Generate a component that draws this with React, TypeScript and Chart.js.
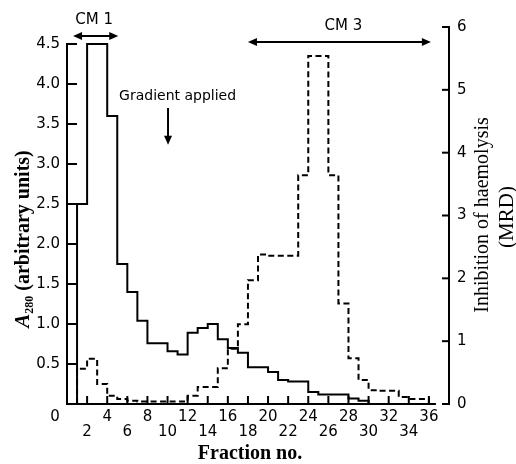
import React, { useEffect, useRef } from "react";
import { Chart, registerables } from "chart.js";

Chart.register(...registerables);

// ---- data ----
// each value covers one fraction: fraction k spans [k, k+1]
const a280FirstFraction = 1;
const a280Values = [
  2.5, 4.5, 4.5, 3.6, 1.75, 1.4, 1.04, 0.76, 0.76, 0.66,
  0.62, 0.89, 0.95, 1.0, 0.81, 0.7, 0.64, 0.46, 0.46, 0.4,
  0.3, 0.28, 0.28, 0.15, 0.12, 0.12, 0.12, 0.07, 0.04,
];
const mrdFirstFraction = 1;
const mrdValues = [
  0.56, 0.72, 0.32, 0.13, 0.08, 0.05, 0.04, 0.04, 0.04, 0.04,
  0.04, 0.13, 0.27, 0.27, 0.57, 0.88, 1.27, 1.97, 2.38, 2.36,
  2.36, 2.36, 3.64, 5.54, 5.54, 3.64, 1.6, 0.73, 0.38, 0.22,
  0.21, 0.21, 0.11, 0.08, 0.08,
];
const xTickValues = [0, 2, 4, 6, 8, 10, 12, 14, 16, 18, 20, 22, 24, 26, 28, 30, 32, 34, 36];
const leftTickValues = [0.5, 1.0, 1.5, 2.0, 2.5, 3.0, 3.5, 4.0, 4.5];
const rightTickValues = [0, 1, 2, 3, 4, 5, 6];

function toSteps(values: number[], first: number) {
  const pts: { x: number; y: number }[] = [{ x: first, y: 0 }];
  values.forEach((v, i) => pts.push({ x: first + i, y: v }));
  pts.push({ x: first + values.length, y: 0 });
  return pts;
}

const SANS = "'DejaVu Sans', sans-serif";
const SERIF = "'Liberation Serif', 'DejaVu Serif', serif";

function line(ctx: CanvasRenderingContext2D, x1: number, y1: number, x2: number, y2: number) {
  ctx.beginPath();
  ctx.moveTo(x1, y1);
  ctx.lineTo(x2, y2);
  ctx.stroke();
}

function head(ctx: CanvasRenderingContext2D, tx: number, ty: number, dx: number, dy: number) {
  const len = 9, half = 4;
  const bx = tx - dx * len, by = ty - dy * len;
  ctx.beginPath();
  ctx.moveTo(tx, ty);
  ctx.lineTo(bx - dy * half, by + dx * half);
  ctx.lineTo(bx + dy * half, by - dx * half);
  ctx.closePath();
  ctx.fill();
}

const decor = {
  id: "decor",
  afterDatasetsDraw(chart: any) {
    const { ctx, chartArea, scales } = chart;
    const xs = scales.x, yL = scales.yL, yR = scales.yR;
    ctx.save();
    ctx.strokeStyle = "#000";
    ctx.fillStyle = "#000";
    ctx.lineWidth = 2;
    ctx.lineCap = "square";

    const x0 = xs.getPixelForValue(0);
    const yb = yL.getPixelForValue(0);
    // left axis + inward ticks
    line(ctx, x0, yb, x0, yL.getPixelForValue(4.5));
    leftTickValues.forEach((v) => {
      const y = yL.getPixelForValue(v);
      line(ctx, x0, y, x0 + 9, y);
    });
    // bottom axis + inward ticks
    line(ctx, x0, yb, xs.getPixelForValue(36.6), yb);
    xTickValues.forEach((v) => {
      if (v === 0) return;
      const x = xs.getPixelForValue(v);
      line(ctx, x, yb, x, yb - 7);
    });
    // right axis + inward ticks
    const xr = chartArea.right;
    line(ctx, xr, yR.getPixelForValue(0), xr, yR.getPixelForValue(6));
    rightTickValues.forEach((v) => {
      const y = yR.getPixelForValue(v);
      line(ctx, xr, y, xr - 6, y);
    });

    // annotations
    ctx.lineCap = "butt";
    ctx.textAlign = "center";
    ctx.textBaseline = "middle";
    const top = chartArea.top;
    ctx.font = `15px ${SANS}`;
    ctx.fillText("CM 1", xs.getPixelForValue(2.7), top - 7);
    const a1 = xs.getPixelForValue(0.6), a2 = xs.getPixelForValue(5.1);
    line(ctx, a1 + 4, top + 9, a2 - 4, top + 9);
    head(ctx, a1, top + 9, -1, 0);
    head(ctx, a2, top + 9, 1, 0);

    ctx.fillText("CM 3", xs.getPixelForValue(27.5), top - 1);
    const b1 = xs.getPixelForValue(18.0), b2 = xs.getPixelForValue(36.2);
    line(ctx, b1 + 4, top + 15, b2 - 4, top + 15);
    head(ctx, b1, top + 15, -1, 0);
    head(ctx, b2, top + 15, 1, 0);

    ctx.font = `14px ${SANS}`;
    ctx.fillText("Gradient applied", xs.getPixelForValue(11.0), yL.getPixelForValue(3.84));
    const gx = xs.getPixelForValue(10.05);
    const gy1 = yL.getPixelForValue(3.7), gy2 = yL.getPixelForValue(3.24);
    line(ctx, gx, gy1, gx, gy2 - 4);
    head(ctx, gx, gy2, 0, 1);

    // x title
    ctx.font = `bold 20px ${SERIF}`;
    ctx.fillText("Fraction no.", 250, 454);

    // right titles
    ctx.save();
    ctx.translate(483, 215);
    ctx.rotate(-Math.PI / 2);
    ctx.font = `20px ${SERIF}`;
    ctx.fillText("Inhibition of haemolysis", 0, 0);
    ctx.restore();
    ctx.save();
    ctx.translate(507, 217);
    ctx.rotate(-Math.PI / 2);
    ctx.font = `21px ${SERIF}`;
    ctx.fillText("(MRD)", 0, 0);
    ctx.restore();

    // left title: A280 (arbitrary units)
    ctx.save();
    ctx.translate(22, 239);
    ctx.rotate(-Math.PI / 2);
    ctx.textAlign = "left";
    ctx.textBaseline = "alphabetic";
    const fA = `italic bold 21px ${SERIF}`;
    const fSub = `bold 12px ${SERIF}`;
    const fRest = `bold 20px ${SERIF}`;
    ctx.font = fA; const wA = ctx.measureText("A").width;
    ctx.font = fSub; const wS = ctx.measureText("280").width;
    ctx.font = fRest; const wR = ctx.measureText(" (arbitrary units)").width;
    let cx = -(wA + wS + wR) / 2;
    const base = 7;
    ctx.font = fA; ctx.fillText("A", cx, base); cx += wA;
    ctx.font = fSub; ctx.fillText("280", cx, base + 4); cx += wS;
    ctx.font = fRest; ctx.fillText(" (arbitrary units)", cx, base);
    ctx.restore();

    ctx.restore();
  },
};

export default function App() {
  const ref = useRef<HTMLCanvasElement | null>(null);
  useEffect(() => {
    if (!ref.current) return;
    const tickFont = { family: SANS, size: 15, lineHeight: 1.0 };
    const chart = new Chart(ref.current, {
      type: "line",
      data: {
        datasets: [
          {
            label: "A280",
            data: toSteps(a280Values, a280FirstFraction),
            yAxisID: "yL",
            stepped: "before",
            borderColor: "#000",
            borderWidth: 2,
            pointRadius: 0,
            fill: false,
            borderJoinStyle: "miter",
          },
          {
            label: "MRD",
            data: toSteps(mrdValues, mrdFirstFraction),
            yAxisID: "yR",
            stepped: "before",
            borderColor: "#000",
            borderWidth: 2,
            borderDash: [6, 3.5],
            pointRadius: 0,
            fill: false,
            borderJoinStyle: "miter",
          },
        ],
      },
      options: {
        responsive: false,
        animation: false,
        layout: { padding: { top: 27, left: 0, right: 0, bottom: 0 } },
        plugins: { legend: { display: false }, tooltip: { enabled: false } },
        scales: {
          x: {
            type: "linear",
            position: "bottom",
            min: 0,
            max: 38,
            grid: { display: false, drawTicks: false },
            border: { display: false },
            afterBuildTicks: (s: any) => {
              s.ticks = xTickValues.map((v) => ({ value: v }));
            },
            afterFit: (s: any) => {
              s.height = 60;
            },
            ticks: {
              autoSkip: false,
              maxRotation: 0,
              minRotation: 0,
              padding: 6,
              color: "#000",
              font: tickFont,
              callback: (v: any) => {
                const n = Number(v);
                if (n === 0) return "0     ";
                return n % 4 === 0 ? String(n) : ["", String(n)];
              },
            },
          },
          yL: {
            type: "linear",
            position: "left",
            min: 0,
            max: 377 / 80,
            grid: { display: false, drawTicks: false },
            border: { display: false },
            afterBuildTicks: (s: any) => {
              s.ticks = leftTickValues.map((v) => ({ value: v }));
            },
            afterFit: (s: any) => {
              s.width = 67;
            },
            ticks: {
              padding: 7,
              color: "#000",
              font: { family: SANS, size: 15 },
              callback: (v: any) => Number(v).toFixed(1),
            },
          },
          yR: {
            type: "linear",
            position: "right",
            min: 0,
            max: 6,
            grid: { display: false, drawTicks: false },
            border: { display: false },
            afterBuildTicks: (s: any) => {
              s.ticks = rightTickValues.map((v) => ({ value: v }));
            },
            afterFit: (s: any) => {
              s.width = 67;
            },
            ticks: {
              padding: 8,
              color: "#000",
              font: { family: SANS, size: 15 },
              callback: (v: any) => String(v),
            },
          },
        },
      },
      plugins: [decor],
    } as any);
    return () => chart.destroy();
  }, []);
  return (
    <div style={{ position: "fixed", left: 0, top: 0, width: 516, height: 464, background: "#fff" }}>
      <canvas ref={ref} width={516} height={464} style={{ display: "block" }} />
    </div>
  );
}
